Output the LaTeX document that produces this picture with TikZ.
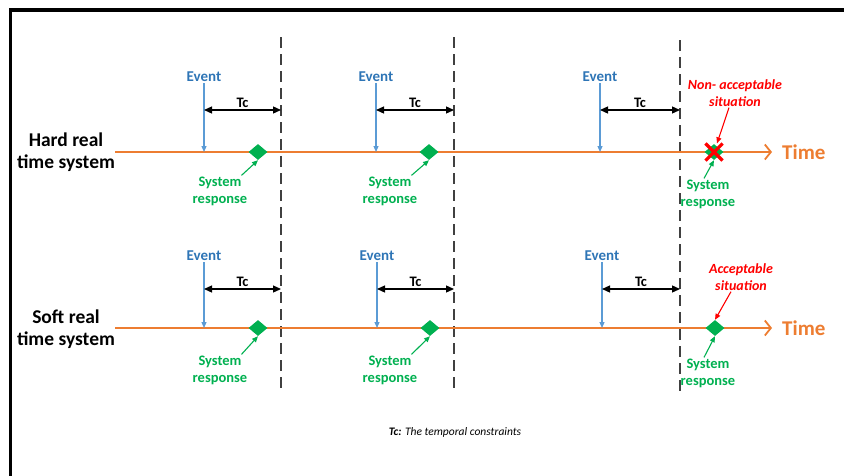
\documentclass[tikz,border=0pt]{standalone}
\usepackage{fontspec}
\setmainfont{Carlito}
\usetikzlibrary{arrows.meta,shapes.geometric,shapes.misc}

\definecolor{timeorange}{HTML}{ED7D31}
\definecolor{eventblue}{HTML}{2E75B6}
\definecolor{arrowblue}{HTML}{5B9BD5}
\definecolor{respgreen}{HTML}{00B050}
\definecolor{warnred}{HTML}{FF0000}
\definecolor{limitgray}{HTML}{404040}

\begin{document}
\begin{tikzpicture}[
    x=1pt,y=-1pt,
    >={Triangle[length=6pt,width=5pt]},
    timeline/.style={draw=timeorange,line width=1.8pt,-{Straight Barb[length=6pt,width=15pt]}},
    timelabel/.style={anchor=west,inner xsep=10pt,inner ysep=1pt,text=timeorange,font=\fontsize{21}{24}\selectfont\bfseries},
    syslabel/.style={align=center,font=\fontsize{19.5}{22}\selectfont\bfseries},
    evtlabel/.style={inner sep=1pt,text=eventblue,font=\fontsize{15}{17}\selectfont\bfseries},
    evtarrow/.style={->,draw=arrowblue,line width=1.2pt},
    tcarrow/.style={<->,>={Triangle[length=8pt,width=7pt]},line width=1.3pt},
    tclabel/.style={above=1pt,inner sep=1pt,font=\fontsize{14.5}{16}\selectfont\bfseries},
    limit/.style={draw=limitgray,line width=2pt,dash pattern=on 11pt off 6pt},
    respmark/.style={diamond,fill=respgreen,inner sep=0pt,minimum width=19pt,minimum height=16pt},
    resplabel/.style={align=center,inner sep=1pt,text=respgreen,font=\fontsize{14.5}{17}\selectfont\bfseries},
    resparrow/.style={->,draw=respgreen,line width=1.1pt},
    missmark/.style={cross out,draw=warnred,line width=3.2pt,inner sep=0pt,minimum size=14pt},
    warnlabel/.style={align=center,inner sep=1pt,text=warnred,font=\fontsize{14}{17}\selectfont\bfseries\itshape},
    warnarrow/.style={->,draw=warnred,line width=1.1pt}
    ]
\def\yh{152}   % hard real time axis
\def\ys{328}   % soft real time axis
\useasboundingbox (0,0) rectangle (844,475);

    % FRAME
    \draw[line width=3.2pt] (10.7,476) -- (10.7,10) -- (845,10);

    % DEADLINES
    \draw[limit] (281,37) -- (281,392);
    \draw[limit] (454,37) -- (454,392);
    \draw[limit] (680,40) -- (680,394);

    % HARD REAL TIME SYSTEM
    \node[syslabel] (hard) at (66,152) {Hard real\\time system};
    \coordinate (hs) at (115,\yh);
    \node[timelabel] (ht) at (772,\yh) {Time};
    \draw[timeline] (hs) -- (ht.west);

    \node[evtlabel] (he1) at (204,77) {Event};
    \node[evtlabel] (he2) at (376,77) {Event};
    \node[evtlabel] (he3) at (600,77) {Event};
    \coordinate (ha1) at (204,\yh);
    \coordinate (ha2) at (376,\yh);
    \coordinate (ha3) at (600,\yh);
    \draw[evtarrow] (he1) -- (ha1);
    \draw[evtarrow] (he2) -- (ha2);
    \draw[evtarrow] (he3) -- (ha3);

    \draw[tcarrow] (204,110) -- (281,110) node[tclabel,midway] (htc1) {Tc};
    \draw[tcarrow] (376,110) -- (454,110) node[tclabel,midway] (htc2) {Tc};
    \draw[tcarrow] (600,110) -- (680,110) node[tclabel,midway] (htc3) {Tc};

    \node[respmark] (hr1) at (258,\yh) {};
    \node[respmark] (hr2) at (429,\yh) {};
    \node[respmark] (hr3) at (714,\yh) {};
    \node[missmark] (hx3) at (714,\yh) {};

    \node[resplabel] (hl1) at (220,191) {System\\response};
    \node[resplabel] (hl2) at (390,191) {System\\response};
    \node[resplabel] (hl3) at (708,194) {System\\response};
    \draw[resparrow] ([xshift=-7pt]hl1.north east) -- (hr1.south);
    \draw[resparrow] ([xshift=-7pt]hl2.north east) -- (hr2.south);
    \draw[resparrow] ([xshift=-4pt]hl3.north) -- (hr3.south);

    \node[warnlabel] (hw) at (735,93) {Non- acceptable\\situation};
    \draw[warnarrow] ([xshift=-6pt]hw.south) -- ([xshift=3pt]hx3.north);

    % SOFT REAL TIME SYSTEM
    \node[syslabel] (soft) at (66,329) {Soft real\\time system};
    \coordinate (ss) at (115,\ys);
    \node[timelabel] (st) at (772,\ys) {Time};
    \draw[timeline] (ss) -- (st.west);

    \node[evtlabel] (se1) at (204,256) {Event};
    \node[evtlabel] (se2) at (377,256) {Event};
    \node[evtlabel] (se3) at (602,256) {Event};
    \coordinate (sa1) at (204,\ys);
    \coordinate (sa2) at (377,\ys);
    \coordinate (sa3) at (602,\ys);
    \draw[evtarrow] (se1) -- (sa1);
    \draw[evtarrow] (se2) -- (sa2);
    \draw[evtarrow] (se3) -- (sa3);

    \draw[tcarrow] (204,289) -- (281,289) node[tclabel,midway] (stc1) {Tc};
    \draw[tcarrow] (377,289) -- (454,289) node[tclabel,midway] (stc2) {Tc};
    \draw[tcarrow] (602,289) -- (680,289) node[tclabel,midway] (stc3) {Tc};

    \node[respmark] (sr1) at (258,\ys) {};
    \node[respmark] (sr2) at (430,\ys) {};
    \node[respmark] (sr3) at (715,\ys) {};

    \node[resplabel] (sl1) at (220,370) {System\\response};
    \node[resplabel] (sl2) at (390,370) {System\\response};
    \node[resplabel] (sl3) at (708,373) {System\\response};
    \draw[resparrow] ([xshift=-7pt]sl1.north east) -- (sr1.south);
    \draw[resparrow] ([xshift=-7pt]sl2.north east) -- (sr2.south);
    \draw[resparrow] ([xshift=-4pt]sl3.north) -- (sr3.south);

    \node[warnlabel] (sw) at (741,277) {Acceptable\\situation};
    \draw[warnarrow] ([xshift=-10pt]sw.south) -- (sr3.north);

    % NOTE
    \node[font=\fontsize{11.5}{13}\selectfont\itshape] (note) at (455,432) {\textbf{Tc:} The temporal constraints};
\end{tikzpicture}
\end{document}
